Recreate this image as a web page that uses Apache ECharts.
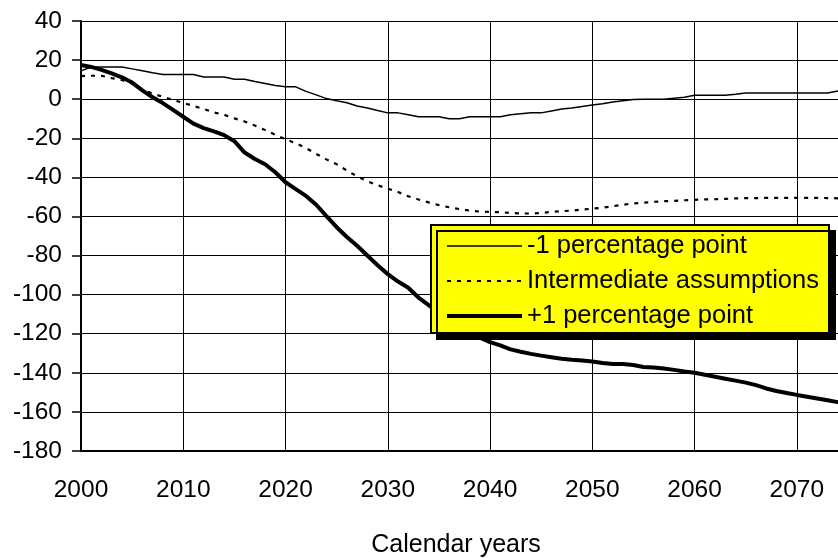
<!DOCTYPE html>
<html>
<head>
<meta charset="utf-8">
<script src="https://cdn.jsdelivr.net/npm/echarts@6/dist/echarts.min.js"></script>
<style>html,body{margin:0;padding:0;background:#fff}#c{width:838px;height:558px}</style>
</head>
<body>
<div id="c"></div>
<script>
const years = [2000,2001,2002,2003,2004,2005,2006,2007,2008,2009,2010,2011,2012,2013,2014,2015,2016,2017,2018,2019,
2020,2021,2022,2023,2024,2025,2026,2027,2028,2029,2030,2031,2032,2033,2034,2035,2036,2037,2038,2039,
2040,2041,2042,2043,2044,2045,2046,2047,2048,2049,2050,2051,2052,2053,2054,2055,2056,2057,2058,2059,
2060,2061,2062,2063,2064,2065,2066,2067,2068,2069,2070,2071,2072,2073,2074,2075];

const minusOne = [14.5,16.5,16.5,16.5,16.5,15.5,14.5,13.5,12.6,12.6,12.6,12.6,11.4,11.4,11.4,10.2,10.2,9,8,7,
6.3,6.3,4,2.2,0.3,-0.8,-1.8,-3.5,-4.5,-5.8,-7,-7,-8,-9,-9,-9,-10,-10,-9,-9,
-9,-9,-8,-7.5,-7,-7,-6,-5,-4.5,-3.8,-3,-2.3,-1.5,-0.8,-0.2,0,0,0,0.5,1,
2,2,2,2,2.5,3.2,3.2,3.2,3.2,3.2,3.2,3.2,3.2,3.2,4.2,5];

const intermediate = [11.8,12,12,10.8,9.8,8,5,2.8,1.2,-0.4,-1.9,-3.5,-5,-6.8,-8,-9.8,-11.4,-13.5,-15.8,-18.2,
-20.5,-22.5,-25,-28,-30.8,-33.3,-36.5,-39.5,-42,-44,-45.8,-47.5,-49.7,-51.3,-52.8,-54.2,-55.3,-56.2,-57,-57.5,
-57.7,-57.8,-58.2,-58.5,-58.5,-58.2,-57.7,-57.3,-57,-56.5,-56,-55.5,-54.8,-54,-53.3,-53,-52.5,-52.2,-52,-51.7,
-51.5,-51.3,-51.2,-51,-50.8,-50.6,-50.6,-50.5,-50.5,-50.5,-50.5,-50.5,-50.5,-50.6,-50.7,-50.7];

const plusOne = [17.5,16.5,15,13.2,11.2,8.5,4.5,1,-2,-5.5,-9,-12.5,-14.8,-16.5,-18.4,-21.5,-27.3,-30.6,-33.3,-37.4,
-42.5,-46,-49.5,-54,-59.8,-65.5,-70.5,-75,-80,-85,-89.5,-93.3,-96.5,-101.5,-105.4,-109.5,-113,-116.5,-119.5,-122,
-124.3,-126,-128,-129.2,-130.3,-131.2,-132,-132.8,-133.3,-133.7,-134.2,-135,-135.5,-135.5,-136,-137,-137.3,-137.8,-138.5,-139.3,
-140,-141,-142,-143,-144,-145,-146.3,-148,-149.3,-150.3,-151.3,-152.2,-153.1,-154,-155,-156];

const seriesNames = ['-1 percentage point', 'Intermediate assumptions', '+1 percentage point'];
const xTicks = [2000, 2075, 10];
const yTicks = [-180, 40, 20];
const xName = 'Calendar years';

const font = '"Liberation Sans", Arial, sans-serif';
const pair = arr => years.map((y, i) => [y, arr[i]]);
const widths = [1.5, 2.2, 4];
const dashes = ['solid', [4, 6], 'solid'];

const chart = echarts.init(document.getElementById('c'), null, {renderer: 'canvas'});
chart.setOption({
  animation: false,
  backgroundColor: '#ffffff',
  grid: {left: 81, right: -10, top: 21, bottom: 107, containLabel: false, outerBoundsMode: 'none'},
  xAxis: {
    type: 'value', min: xTicks[0], max: xTicks[1], interval: xTicks[2],
    name: xName, nameLocation: 'middle', nameGap: 82,
    nameTextStyle: {fontFamily: font, fontSize: 25, color: '#000', padding: [0, 17, 0, 0]},
    axisLine: {show: true, onZero: false, lineStyle: {color: '#000', width: 2}},
    axisTick: {show: false},
    axisLabel: {fontFamily: font, fontSize: 24.5, color: '#000', margin: 27,
      formatter: v => (v >= 2075 ? '' : String(v))},
    splitLine: {show: true, lineStyle: {color: '#000', width: 1}}
  },
  yAxis: {
    type: 'value', min: yTicks[0], max: yTicks[1], interval: yTicks[2],
    axisLine: {show: true, onZero: false, lineStyle: {color: '#000', width: 2}},
    axisTick: {show: true, length: 9, lineStyle: {color: '#000', width: 1.5}},
    axisLabel: {fontFamily: font, fontSize: 24.5, color: '#000', margin: 19},
    splitLine: {show: true, lineStyle: {color: '#000', width: 1}}
  },
  legend: {
    show: true, orient: 'vertical', left: 431, top: 225,
    data: seriesNames.map((n, i) => ({name: n, lineStyle: {width: widths[i], type: dashes[i], color: '#000'}})),
    itemWidth: 75, itemHeight: 25, itemGap: 9,
    padding: [8, 10, 4, 14],
    backgroundColor: '#ffff00', borderColor: '#000', borderWidth: 2, borderRadius: 0,
    shadowColor: '#000', shadowBlur: 0, shadowOffsetX: 6, shadowOffsetY: 6,
    itemStyle: {opacity: 0},
    textStyle: {fontFamily: font, fontSize: 25.5, color: '#000'},
    selectedMode: false
  },
  series: seriesNames.map((n, i) => ({
    name: n, type: 'line', data: pair([minusOne, intermediate, plusOne][i]), symbol: 'none',
    lineStyle: {color: '#000', width: widths[i], type: dashes[i]}, itemStyle: {color: '#000'}, z: 3
  }))
});
</script>
</body>
</html>
